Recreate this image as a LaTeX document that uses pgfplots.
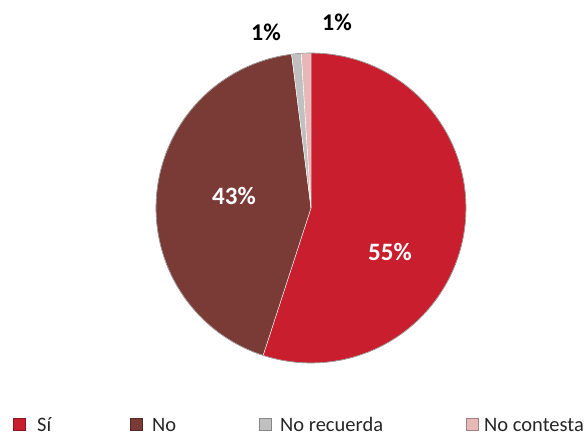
\documentclass[border=0pt]{standalone}
\usepackage{pgfplots}
\pgfplotsset{compat=1.18}
\usepackage{pgfplotstable}
\usepackage{fontspec}
\setmainfont{Carlito}

\definecolor{cSi}{HTML}{C81E2D}
\definecolor{cNo}{HTML}{7A3A35}
\definecolor{cRec}{HTML}{C0C0C0}
\definecolor{cCon}{HTML}{E6B8B7}
\definecolor{legtext}{HTML}{262626}

% share of answers, in percent
\pgfplotstableread{
name value col
Si 55 cSi
No 43 cNo
NoRecuerda 1 cRec
NoContesta 1 cCon
}\piedata

\def\cx{311}
\def\cy{229}
\def\R{155}

% legend entry: marker centre x, text x, colour, label
\newcommand\legitem[4]{%
  \fill[#3, draw=#3!70!black, line width=0.3pt] (axis cs:#1-6,7) rectangle (axis cs:#1+6,19);
  \node[anchor=base west, inner sep=0, text=legtext, font=\fontsize{20.5}{24}\selectfont] at (axis cs:#2,6) {#4};
}

\begin{document}
\begin{tikzpicture}
\begin{axis}[
  width=586pt, height=437pt, scale only axis,
  xmin=0, xmax=586, ymin=0, ymax=437,
  hide axis, clip=false,
]
% keep the whole frame as the picture's size
\path (rel axis cs:0,0) rectangle (rel axis cs:1,1);
\pgfplotstablegetrowsof{\piedata}
\pgfmathtruncatemacro\lastrow{\pgfplotsretval-1}
\def\cum{0}
\pgfplotsforeachungrouped \i in {0,...,\lastrow}{
  \pgfplotstablegetelem{\i}{value}\of\piedata \let\v\pgfplotsretval
  \pgfplotstablegetelem{\i}{col}\of\piedata \let\c\pgfplotsretval
  \pgfmathsetmacro\a{90-3.6*\cum}
  \pgfmathsetmacro\b{90-3.6*(\cum+\v)}
  \edef\temp{\noexpand\fill[\c, draw=white, line width=0.4pt]
    (axis cs:\cx,\cy) -- (axis cs:{\cx+\R*cos(\a)},{\cy+\R*sin(\a)})
    arc[start angle=\a, end angle=\b, radius=\R] -- cycle;}
  \temp
  \pgfmathsetmacro\cum{\cum+\v}
}
\draw[black!45, line width=0.6pt] (axis cs:\cx,\cy) circle[radius=\R];

% slice labels
\node[white, font=\fontsize{25}{28}\selectfont\bfseries] at (axis cs:390,185) {55\%};
\node[white, font=\fontsize{25}{28}\selectfont\bfseries] at (axis cs:234,241) {43\%};
\node[black, font=\fontsize{24}{28}\selectfont\bfseries] at (axis cs:266,405) {1\%};
\node[black, font=\fontsize{24}{28}\selectfont\bfseries] at (axis cs:337,415) {1\%};

% legend
\legitem{19.5}{37}{cSi}{Sí}
\legitem{136.5}{152}{cNo}{No}
\legitem{265.5}{280}{cRec}{No recuerda}
\legitem{472.5}{484}{cCon}{No contesta}
\end{axis}
\end{tikzpicture}
\end{document}
